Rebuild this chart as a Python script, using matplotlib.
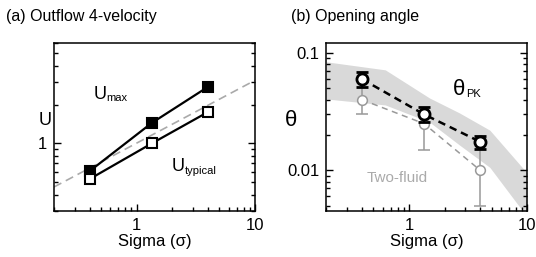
import matplotlib
matplotlib.use("Agg")
import matplotlib.pyplot as plt
from matplotlib.ticker import FuncFormatter, NullFormatter, LogLocator

plt.rcParams['font.family'] = ['Liberation Sans', 'DejaVu Sans']

# (a) outflow 4-velocity
sigma = [0.4, 1.34, 4.0]
u_max = [0.61, 1.44, 2.74]
u_typ = [0.53, 1.0, 1.75]
ref_x = [0.2, 10]
ref_u = [0.46, 3.08]

# (b) opening angle
th_pk = [0.060, 0.030, 0.0175]
th_pk_lo = [0.051, 0.026, 0.0153]
th_pk_hi = [0.069, 0.0345, 0.0197]
th_2f = [0.040, 0.025, 0.010]
th_2f_lo = [0.030, 0.015, 0.005]
th_2f_hi = [0.060, 0.030, 0.0175]
band_x = [0.2, 0.63, 1.49, 2.68, 4.82, 9.2, 10]
band_hi = [0.0842, 0.0719, 0.0414, 0.0308, 0.0220, 0.0104, 0.0096]
band_lo = [0.0406, 0.0361, 0.0258, 0.0164, 0.0106, 0.00446, 0.0040]

fig = plt.figure(figsize=(5.36, 2.57), dpi=100)
axa = fig.add_axes([0.1007, 0.179, 0.375, 0.654])
axb = fig.add_axes([0.6088, 0.179, 0.375, 0.654])

fmt = FuncFormatter(lambda v, p: '%g' % v)
for ax in (axa, axb):
    ax.set_xscale('log')
    ax.set_yscale('log')
    ax.set_xlim(0.2, 10)
    ax.xaxis.set_major_formatter(fmt)
    ax.yaxis.set_major_formatter(fmt)
    ax.xaxis.set_minor_formatter(NullFormatter())
    ax.yaxis.set_minor_formatter(NullFormatter())
    ax.yaxis.set_minor_locator(LogLocator(subs=range(2, 10)))
    ax.tick_params(which='both', direction='in', top=False, right=True, labelsize=12, width=1)
    ax.tick_params(which='major', length=5, pad=5)
    ax.tick_params(which='minor', length=3)
    for s in ax.spines.values():
        s.set_linewidth(1.1)
    ax.set_xlabel('Sigma (σ)', fontsize=12, labelpad=1)

# panel a
axa.set_ylim(0.3, 6)
axa.plot(ref_x, ref_u, '--', color='#aaaaaa', lw=1.2, dashes=(5, 3), zorder=1)
axa.plot(sigma, u_max, '-s', color='black', lw=1.6, ms=7, mfc='black', mew=1.5, zorder=3)
axa.plot(sigma, u_typ, '-s', color='black', lw=1.6, ms=7, mfc='white', mew=1.5, zorder=3)
axa.annotate('U', (0.43, 2.39), fontsize=13, va='center')
axa.annotate('max', (0.43, 2.39), xytext=(9.5, -2.5), textcoords='offset points', fontsize=8, va='center')
axa.annotate('U', (1.99, 0.665), fontsize=13, va='center')
axa.annotate('typical', (1.99, 0.665), xytext=(9.5, -3.5), textcoords='offset points', fontsize=8, va='center')
axa.text(-0.045, 0.54, 'U', transform=axa.transAxes, fontsize=13, ha='center', va='center')
fig.text(0.011, 0.934, '(a) Outflow 4-velocity', fontsize=11.5, va='center')

# panel b
axb.set_ylim(0.0045, 0.122)
axb.fill_between(band_x, band_lo, band_hi, color='#d9d9d9', lw=0, zorder=0)
axb.errorbar(sigma, th_2f,
             yerr=[[a - b for a, b in zip(th_2f, th_2f_lo)], [b - a for a, b in zip(th_2f, th_2f_hi)]],
             fmt='--o', color='#999999', lw=1.1, dashes=(4, 3), ms=7, mfc='white', mec='#999999', mew=1.1,
             capsize=4, elinewidth=1.1, capthick=1.1, zorder=2)
axb.errorbar(sigma, th_pk,
             yerr=[[a - b for a, b in zip(th_pk, th_pk_lo)], [b - a for a, b in zip(th_pk, th_pk_hi)]],
             fmt='--o', color='black', lw=1.8, dashes=(3, 2), ms=8, mfc='white', mec='black', mew=2,
             capsize=4, elinewidth=1.5, capthick=1.5, zorder=3)
axb.annotate('θ', (2.33, 0.0485), fontsize=16, va='center')
axb.annotate('PK', (2.33, 0.0485), xytext=(9.5, -3), textcoords='offset points', fontsize=8, va='center')
axb.text(0.44, 0.00854, 'Two-fluid', color='#aaaaaa', fontsize=11, va='center')
axb.text(-0.176, 0.54, 'θ', transform=axb.transAxes, fontsize=16, ha='center', va='center')
fig.text(0.543, 0.934, '(b) Opening angle', fontsize=11.5, va='center')

fig.savefig('out.png', dpi=100)
